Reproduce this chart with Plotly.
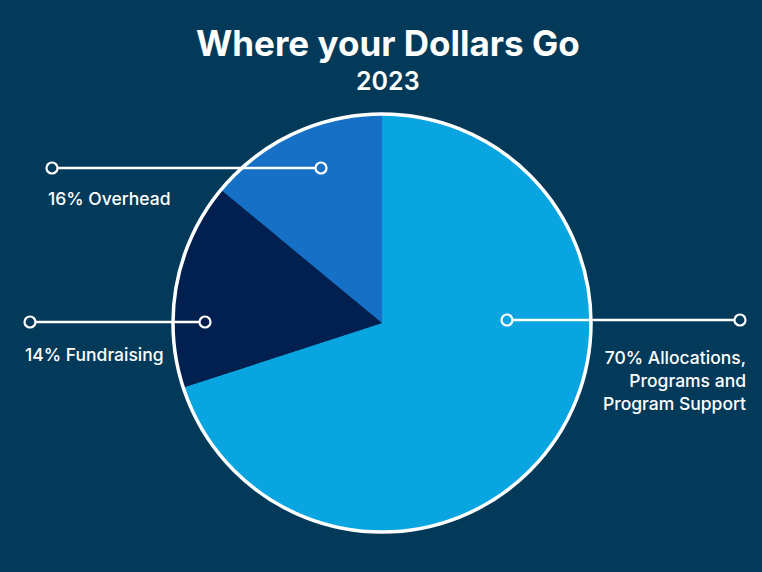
import plotly.graph_objects as go

# dados da pizza (ordem horaria a partir do topo)
slice_names = ['Allocations, Programs and Program Support', 'Fundraising', 'Overhead']
slice_values = [70, 16, 14]
slice_colors = ['#08a5e0', '#01204f', '#1670c6']

label_texts = ['16% Overhead', '14% Fundraising',
               '70% Allocations,<br>Programs and<br>Program Support']

title_text = 'Where your Dollars Go'
subtitle_text = '2023'

W, H = 762, 572
BG = '#033a59'

def px(x):
    return x / W

def py(y):
    return 1 - y / H

# pizza centrada em (382, 322), raio ~209
cx, cy, r = 382, 323, 209

fig = go.Figure()

fig.add_trace(
    go.Pie(
        labels=slice_names,
        values=slice_values,
        marker=dict(colors=slice_colors, line=dict(color='white', width=0)),
        sort=False,
        direction='clockwise',
        rotation=0,
        textinfo='none',
        hoverinfo='label+percent',
        showlegend=False,
        domain=dict(x=[px(cx - r), px(cx + r)], y=[py(cy + r), py(cy - r)]),
    )
)

shapes = []
# borda branca da pizza
shapes.append(dict(type='circle', xref='paper', yref='paper',
                   x0=px(cx - r), x1=px(cx + r), y0=py(cy + r), y1=py(cy - r),
                   line=dict(color='white', width=3.5), layer='above'))

# linhas de chamada: (x0, x1, y, cor interna esquerda, cor interna direita)
leaders = [
    (52, 321, 168, BG, slice_colors[2]),
    (30, 205, 322, BG, slice_colors[1]),
    (507, 740, 320, slice_colors[0], BG),
]
for x0, x1, y, c0, c1 in leaders:
    shapes.append(dict(type='line', xref='paper', yref='paper',
                       x0=px(x0), x1=px(x1), y0=py(y), y1=py(y),
                       line=dict(color='white', width=2.5), layer='above'))
    for xc, fc in ((x0, c0), (x1, c1)):
        shapes.append(dict(type='circle', xref='paper', yref='paper',
                           x0=px(xc - 5.5), x1=px(xc + 5.5),
                           y0=py(y + 5.5), y1=py(y - 5.5),
                           fillcolor=fc, line=dict(color='white', width=2.2),
                           layer='above'))

font_family = 'Inter, Roboto, sans-serif'
label_font = dict(family=font_family, size=17.5, color='white', weight=500)
annotations = [
    dict(text=title_text, x=px(388), y=py(43), xref='paper', yref='paper',
         showarrow=False, xanchor='center', yanchor='middle',
         font=dict(family=font_family, size=35, color='white', weight=700)),
    dict(text=subtitle_text, x=px(388), y=py(81), xref='paper', yref='paper',
         showarrow=False, xanchor='center', yanchor='middle',
         font=dict(family=font_family, size=25, color='white', weight=600)),
    dict(text=label_texts[0], x=px(46), y=py(198), xref='paper', yref='paper',
         showarrow=False, xanchor='left', yanchor='middle', font=label_font),
    dict(text=label_texts[1], x=px(23), y=py(354), xref='paper', yref='paper',
         showarrow=False, xanchor='left', yanchor='middle', font=label_font),
    dict(text=label_texts[2], x=px(748), y=py(380), xref='paper', yref='paper',
         showarrow=False, xanchor='right', yanchor='middle', align='right',
         font=label_font),
]

fig.update_layout(
    width=W,
    height=H,
    margin=dict(l=0, r=0, t=0, b=0),
    paper_bgcolor=BG,
    plot_bgcolor=BG,
    shapes=shapes,
    annotations=annotations,
)

# tira a margem padrao do body para a figura ocupar a janela toda
fig.write_html("out.html", config={'displayModeBar': False},
               post_script="document.body.style.margin='0';")
